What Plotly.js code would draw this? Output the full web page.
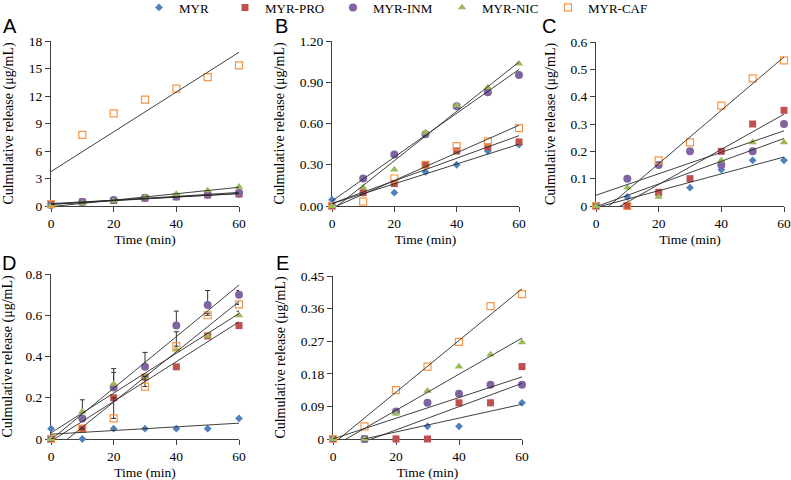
<!DOCTYPE html>
<html>
<head>
<meta charset="utf-8">
<script src="https://cdn.plot.ly/plotly-3.0.1.min.js"></script>
<style>
html,body{margin:0;padding:0;background:#ffffff;}
#chart{width:791px;height:480px;}
</style>
</head>
<body>
<div id="chart"></div>
<script>
// ---------- data ----------
const times = [0, 10, 20, 30, 40, 50, 60];
const seriesNames = ['MYR', 'MYR-PRO', 'MYR-INM', 'MYR-NIC', 'MYR-CAF'];
const panelLetters = ['A', 'B', 'C', 'D', 'E'];

// Panel A
const A_MYR = [0.1, 0.4, 0.6, 0.85, 1.0, 1.15, 1.3];
const A_PRO = [0.25, 0.45, 0.6, 0.85, 1.0, 1.2, 1.3];
const A_INM = [0.1, 0.45, 0.65, 0.9, 1.05, 1.25, 1.45];
const A_NIC = [0.0, 0.3, 0.55, 0.95, 1.3, 1.7, 2.1];
const A_CAF = [0.2, 7.75, 10.1, 11.6, 12.8, 14.05, 15.35];

// Panel B
const B_MYR = [0.046, 0.095, 0.097, 0.248, 0.30, 0.40, 0.447];
const B_PRO = [0, 0.097, 0.163, 0.30, 0.40, 0.43, 0.466];
const B_INM = [0, 0.20, 0.374, 0.522, 0.726, 0.828, 0.952];
const B_NIC = [0, 0.134, 0.265, 0.534, 0.731, 0.862, 1.035];
const B_CAF = [0, 0.032, 0.20, 0.30, 0.435, 0.47, 0.566];

// Panel C
const C_MYR = [0, 0.033, 0.04, 0.067, 0.133, 0.167, 0.167];
const C_PRO = [0, 0, 0.05, 0.10, 0.20, 0.30, 0.35];
const C_INM = [0, 0.10, 0.15, 0.20, 0.15, 0.20, 0.30];
const C_NIC = [0, 0.067, 0.033, null, 0.167, 0.233, 0.233];
const C_CAF = [0, 0, 0.167, 0.233, 0.367, 0.467, 0.533];

// Panel D
const D_MYR = [0.05, 0, 0.05, 0.05, 0.05, 0.05, 0.10];
const D_PRO = [0, 0.05, 0.20, 0.30, 0.35, 0.50, 0.55];
const D_INM = [0, 0.10, 0.25, 0.35, 0.55, 0.65, 0.70];
const D_NIC = [0, 0.133, 0.267, 0.30, 0.433, 0.50, 0.60];
const D_CAF = [0, 0.05, 0.10, 0.254, 0.45, 0.60, 0.653];
// Panel D error bars (plus direction only)
const D_INM_err = [0, 0, 0.073, 0.07, 0.07, 0.07, 0.02];
const D_NIC_err = [0, 0.057, 0.074, 0, 0, 0, 0.02];
const D_CAF_err = [0, 0, 0.10, 0.05, 0.07, 0.01, 0];

// Panel E
const E_MYR = [0, 0, 0, 0.035, 0.035, 0.10, 0.10];
const E_PRO = [0, 0, 0, 0, 0.10, 0.10, 0.20];
const E_INM = [0, 0, 0.076, 0.10, 0.125, 0.15, 0.15];
const E_NIC = [0, 0, 0.07, 0.133, 0.20, 0.233, 0.267];
const E_CAF = [0, 0.035, 0.135, 0.20, 0.268, 0.367, 0.40];

// Tick labels
const xTickVals = [0, 20, 40, 60];
const xTickText = ['0', '20', '40', '60'];
const A_yTickVals = [0, 3, 6, 9, 12, 15, 18];
const A_yTickText = ['0', '3', '6', '9', '12', '15', '18'];
const B_yTickVals = [0, 0.3, 0.6, 0.9, 1.2];
const B_yTickText = ['0.00', '0.30', '0.60', '0.90', '1.20'];
const C_yTickVals = [0, 0.1, 0.2, 0.3, 0.4, 0.5, 0.6];
const C_yTickText = ['0', '0.1', '0.2', '0.3', '0.4', '0.5', '0.6'];
const D_yTickVals = [0, 0.2, 0.4, 0.6, 0.8];
const D_yTickText = ['0', '0.2', '0.4', '0.6', '0.8'];
const E_yTickVals = [0, 0.09, 0.18, 0.27, 0.36, 0.45];
const E_yTickText = ['0', '0.09', '0.18', '0.27', '0.36', '0.45'];

// ---------- styling ----------
const W = 791, H = 480;
const serif = '"Liberation Serif", "Times New Roman", serif';
const sans = '"Liberation Sans", Arial, sans-serif';
const tickFs = 13.5, xTitleFs = 13.5, yTitleFs = 14, legendFs = 13;
const axisColor = '#404040';
const markerStyles = [
  {symbol: 'diamond', size: 6, color: '#4F81BD'},
  {symbol: 'square', size: 7, color: '#C0504D'},
  {symbol: 'circle', size: 8, color: '#8064A2'},
  {symbol: 'triangle-up', size: 7.5, color: '#9BBB59'},
  {symbol: 'square-open', size: 7, color: '#F79646', line: {width: 1.2, color: '#F79646'}}
];
const legendWidths = [41, 63, 64, 61, 60];

const panels = [
  {series: [A_MYR, A_PRO, A_INM, A_NIC, A_CAF], tv: A_yTickVals, tt: A_yTickText, ymax: 18,
   box: [51, 239, 41, 206], letter: [10, 26]},
  {series: [B_MYR, B_PRO, B_INM, B_NIC, B_CAF], tv: B_yTickVals, tt: B_yTickText, ymax: 1.2,
   box: [332, 519, 41, 206], letter: [281.5, 26]},
  {series: [C_MYR, C_PRO, C_INM, C_NIC, C_CAF], tv: C_yTickVals, tt: C_yTickText, ymax: 0.6,
   box: [596, 784, 42, 206], letter: [549, 26]},
  {series: [D_MYR, D_PRO, D_INM, D_NIC, D_CAF], tv: D_yTickVals, tt: D_yTickText, ymax: 0.8,
   box: [51, 239, 274, 439], letter: [8.5, 262.5],
   err: [null, null, D_INM_err, D_NIC_err, D_CAF_err]},
  {series: [E_MYR, E_PRO, E_INM, E_NIC, E_CAF], tv: E_yTickVals, tt: E_yTickText, ymax: 0.45,
   box: [333, 522, 276, 439], letter: [282, 262.5]}
];

function linFit(xs, ys) {
  const pts = xs.map((x, i) => [x, ys[i]]).filter(p => p[1] !== null && p[1] !== undefined);
  const n = pts.length;
  const mx = pts.reduce((s, p) => s + p[0], 0) / n;
  const my = pts.reduce((s, p) => s + p[1], 0) / n;
  let sxy = 0, sxx = 0;
  pts.forEach(p => { sxy += (p[0] - mx) * (p[1] - my); sxx += (p[0] - mx) * (p[0] - mx); });
  const m = sxy / sxx, b = my - m * mx;
  const x0 = xs[0], x1 = xs[xs.length - 1];
  return {x: [x0, x1], y: [b + m * x0, b + m * x1]};
}

const traces = [];
const lineTraces = [];
const layout = {
  width: W, height: H,
  margin: {l: 0, r: 0, t: 0, b: 0, pad: 0, autoexpand: false},
  paper_bgcolor: '#ffffff', plot_bgcolor: 'rgba(0,0,0,0)',
  showlegend: true,
  legend: {
    orientation: 'h', x: 139 / W, xanchor: 'left', y: 1 + 7.5 / H, yanchor: 'top',
    font: {family: serif, size: legendFs, color: '#000'},
    bgcolor: 'rgba(0,0,0,0)', borderwidth: 0, itemsizing: 'trace'
  },
  annotations: [],
  hovermode: false
};

panels.forEach((p, i) => {
  const sfx = i === 0 ? '' : String(i + 1);
  const xa = 'x' + sfx, ya = 'y' + sfx;
  const [x0, x1, yt, yb] = p.box;
  layout['xaxis' + sfx] = {
    domain: [x0 / W, x1 / W], anchor: ya, range: [0, 60],
    tickmode: 'array', tickvals: xTickVals, ticktext: xTickText,
    ticks: 'outside', ticklen: 5, tickwidth: 1, tickcolor: axisColor,
    showline: true, linecolor: axisColor, linewidth: 1,
    showgrid: false, zeroline: false, layer: 'below traces',
    tickfont: {family: serif, size: tickFs, color: '#000'},
    title: {text: 'Time (min)', font: {family: serif, size: xTitleFs, color: '#000'}, standoff: 4}
  };
  layout['yaxis' + sfx] = {
    domain: [1 - yb / H, 1 - yt / H], anchor: xa, range: [0, p.ymax],
    tickmode: 'array', tickvals: p.tv, ticktext: p.tt,
    ticks: 'outside', ticklen: 5, tickwidth: 1, tickcolor: axisColor,
    showline: true, linecolor: axisColor, linewidth: 1,
    showgrid: false, zeroline: false, layer: 'below traces',
    tickfont: {family: serif, size: tickFs, color: '#000'},
    title: {text: 'Culmulative release (μg/mL)', font: {family: serif, size: yTitleFs, color: '#000'}, standoff: 11}
  };
  layout.annotations.push({
    xref: 'paper', yref: 'paper', x: p.letter[0] / W, y: 1 - p.letter[1] / H,
    xanchor: 'center', yanchor: 'middle', showarrow: false,
    text: panelLetters[i], font: {family: sans, size: 20, color: '#000'}
  });
  p.series.forEach((ys, s) => {
    const t = {
      type: 'scatter', mode: 'markers', x: times, y: ys, xaxis: xa, yaxis: ya,
      name: seriesNames[s], legendgroup: seriesNames[s], showlegend: i === 0,
      legendwidth: legendWidths[s],
      marker: markerStyles[s], cliponaxis: false
    };
    if (p.err && p.err[s]) {
      t.error_y = {type: 'data', symmetric: false, array: p.err[s],
        arrayminus: p.err[s].map(() => 0), color: '#303030', thickness: 1, width: 2.5, visible: true};
    }
    traces.push(t);
    const f = linFit(times, ys);
    lineTraces.push({
      type: 'scatter', mode: 'lines', x: f.x, y: f.y, xaxis: xa, yaxis: ya,
      showlegend: false, hoverinfo: 'skip', legendgroup: seriesNames[s],
      line: {color: '#2a2a2a', width: 0.9}
    });
  });
});

Plotly.newPlot('chart', traces.concat(lineTraces), layout, {displayModeBar: false, staticPlot: true});
</script>
</body>
</html>
